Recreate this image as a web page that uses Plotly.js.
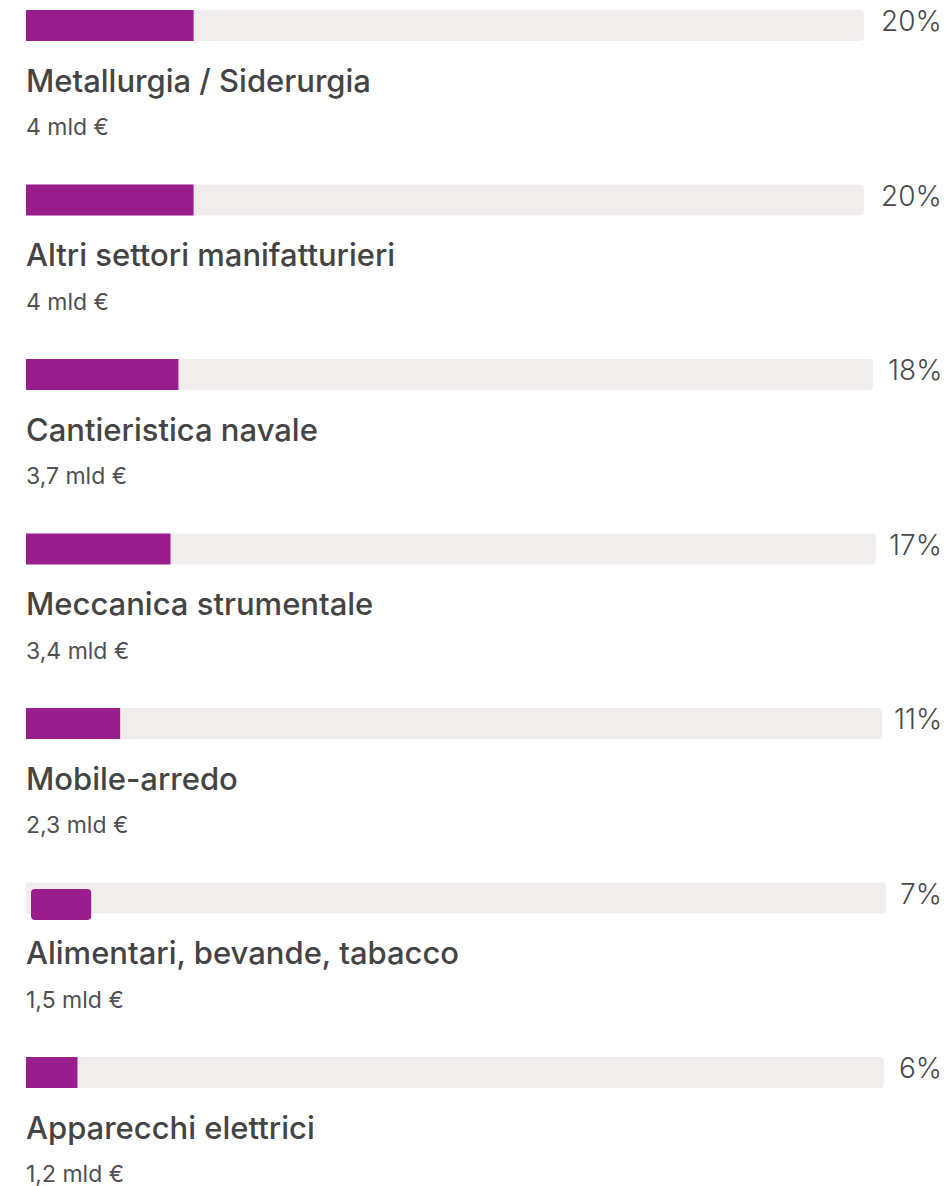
<!DOCTYPE html>
<html>
<head>
<meta charset="utf-8">
<script src="https://cdn.plot.ly/plotly-3.0.1.min.js"></script>
<style>
  html, body { margin: 0; padding: 0; background: #ffffff; }
  #chart { width: 950px; height: 1186px; }
</style>
</head>
<body>
<div id="chart"></div>
<script>
// ---- DATA ----
const categories = [
  'Metallurgia / Siderurgia',
  'Altri settori manifatturieri',
  'Cantieristica navale',
  'Meccanica strumentale',
  'Mobile-arredo',
  'Alimentari, bevande, tabacco',
  'Apparecchi elettrici'
];
const shares = [20, 20, 18, 17, 11, 7, 6];           // percent
const valueLabels = ['4 mld €', '4 mld €', '3,7 mld €', '3,4 mld €', '2,3 mld €', '1,5 mld €', '1,2 mld €'];
const fullScale = 100;

// ---- LAYOUT (pixels) ----
const W = 950, H = 1186;
const leftPx = 26;
const rowStep = 174.5;
const firstBarTop = 10;
const barH = 31;
const trackRightPx = [864, 864, 873, 876, 882, 886, 884];
const labelRightPx = 944;
const purple = '#9A1D8D';
const track = '#F1EDED';

const px2x = p => p / W;
const px2y = p => 1 - p / H;

const traces = [];
const annotations = [];
const layout = {
  width: W, height: H,
  margin: {l: 0, r: 0, t: 0, b: 0},
  paper_bgcolor: '#ffffff',
  plot_bgcolor: 'rgba(0,0,0,0)',
  showlegend: false,
  barmode: 'overlay',
  hovermode: false,
  font: {family: 'Inter, "Noto Sans", sans-serif', color: '#444444'}
};

categories.forEach((cat, i) => {
  const sfx = i === 0 ? '' : String(i + 1);
  const top = firstBarTop + i * rowStep;
  const center = top + barH / 2;
  const pad = 10;
  const T = top - pad, B = top + barH + pad;
  const half = (B - center) / barH;

  layout['xaxis' + sfx] = {
    domain: [px2x(leftPx), px2x(trackRightPx[i])],
    range: [0, fullScale], visible: false, fixedrange: true,
    anchor: 'y' + sfx
  };
  layout['yaxis' + sfx] = {
    domain: [px2y(B), px2y(T)],
    range: [-half, half], visible: false, fixedrange: true,
    anchor: 'x' + sfx
  };

  traces.push({
    type: 'bar', orientation: 'h',
    x: [fullScale], y: [0], width: 1,
    xaxis: 'x' + sfx, yaxis: 'y' + sfx,
    marker: {color: track, cornerradius: 4, line: {width: 0}},
    hoverinfo: 'skip'
  });

  const fill = {
    type: 'bar', orientation: 'h',
    x: [shares[i]], y: [0], width: 1,
    xaxis: 'x' + sfx, yaxis: 'y' + sfx,
    marker: {color: purple, cornerradius: 4, line: {width: 0}},
    hoverinfo: 'skip'
  };
  // small visual misalignment of the 6th fill bar in the original
  if (i === 5) {
    const trackW = trackRightPx[i] - leftPx;
    fill.base = [5 / trackW * fullScale];
    fill.offset = -0.5 - 6.5 / barH;
  }
  traces.push(fill);

  annotations.push({
    xref: 'paper', yref: 'paper',
    x: px2x(labelRightPx), y: px2y(top + 11),
    xanchor: 'right', yanchor: 'middle',
    text: shares[i] + '%', showarrow: false,
    font: {size: 28, color: '#4a4a4a', weight: 300}
  });
  annotations.push({
    xref: 'paper', yref: 'paper',
    x: px2x(leftPx - 2), y: px2y(top + 70),
    xanchor: 'left', yanchor: 'middle',
    text: cat, showarrow: false,
    font: {size: 31, color: '#444444', weight: 500}
  });
  annotations.push({
    xref: 'paper', yref: 'paper',
    x: px2x(leftPx - 2), y: px2y(top + 117),
    xanchor: 'left', yanchor: 'middle',
    text: valueLabels[i], showarrow: false,
    font: {size: 23, color: '#505050', weight: 400}
  });
});

layout.annotations = annotations;

Plotly.newPlot('chart', traces, layout, {displayModeBar: false, staticPlot: true});
</script>
</body>
</html>
